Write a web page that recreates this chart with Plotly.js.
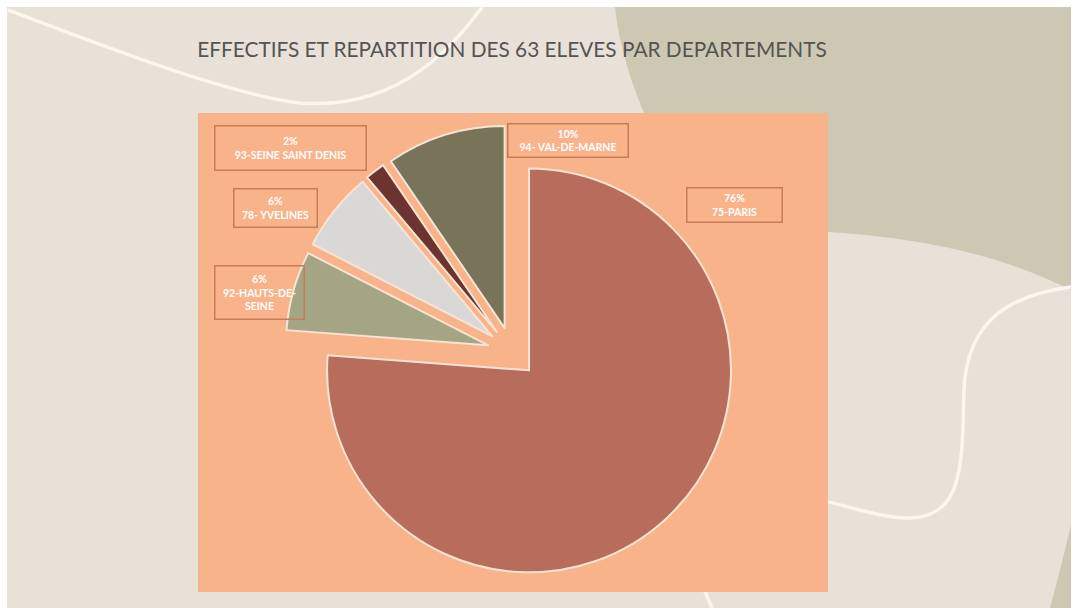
<!DOCTYPE html>
<html>
<head>
<meta charset="utf-8">
<script src="https://cdn.plot.ly/plotly-3.0.1.min.js"></script>
<style>html,body{margin:0;padding:0;background:#fff;overflow:hidden}#chart{width:1073px;height:608px}</style>
</head>
<body>
<div id="chart"></div>
<script>
// ---- data ----
const departements = ["75-PARIS", "92-HAUTS-DE-SEINE", "78- YVELINES", "93-SEINE SAINT DENIS", "94- VAL-DE-MARNE"];
const eleves = [48, 4, 4, 1, 6];
const pourcentages = ["76%", "6%", "6%", "2%", "10%"];
const labelTexts = ["75-PARIS", "92-HAUTS-DE-<br>SEINE", "78- YVELINES", "93-SEINE SAINT DENIS", "94- VAL-DE-MARNE"];
const sliceColors = ["#B86C5C", "#A4A585", "#DAD8D6", "#6C3330", "#77745A"];
const titleText = "EFFECTIFS ET REPARTITION DES 63 ELEVES PAR DEPARTEMENTS";

// ---- layout helpers (pixel -> paper) ----
const W = 1073, H = 608;
const px = x => x / W;
const py = y => 1 - y / H;
function path(cmds) {
  return cmds.map(c => {
    const l = c[0]; const pts = [];
    for (let i = 1; i < c.length; i += 2) pts.push(px(c[i]).toFixed(5) + "," + py(c[i + 1]).toFixed(5));
    return l + " " + pts.join(" ");
  }).join(" ");
}

const shapes = [
  {type: "rect", xref: "paper", yref: "paper", x0: px(7), x1: px(1071), y0: py(608), y1: py(7),
   fillcolor: "#E8E1D8", line: {width: 0}, layer: "below"},
  {type: "path", xref: "paper", yref: "paper", layer: "below", fillcolor: "#CDC8B3", line: {width: 0},
   path: path([["M", 615, 7], ["L", 1071, 7], ["L", 1071, 290], ["C", 1030, 270, 960, 240, 828, 232],
               ["L", 700, 200], ["C", 650, 150, 620, 60, 615, 7]]) + " Z"},
  {type: "path", xref: "paper", yref: "paper", layer: "below", fillcolor: "#CDC8B3", line: {width: 0},
   path: path([["M", 1071, 525], ["L", 1071, 608], ["L", 1050, 608], ["C", 1058, 580, 1065, 550, 1071, 525]]) + " Z"},
  {type: "path", xref: "paper", yref: "paper", layer: "below", line: {color: "#FBF6EE", width: 3.5},
   path: path([["M", 8, 10], ["C", 100, 45, 230, 95, 300, 103], ["C", 370, 108, 430, 80, 482, 7]])},
  {type: "path", xref: "paper", yref: "paper", layer: "below", line: {color: "#FBF6EE", width: 3.5},
   path: path([["M", 1071, 287], ["C", 1010, 295, 967, 320, 964, 390], ["C", 962, 460, 965, 517, 910, 518],
               ["C", 880, 519, 850, 505, 700, 470]])},
  {type: "path", xref: "paper", yref: "paper", layer: "below", line: {color: "#FBF6EE", width: 3.5},
   path: path([["M", 700, 580], ["L", 712, 608]])},
  {type: "rect", xref: "paper", yref: "paper", x0: px(198), x1: px(828), y0: py(592), y1: py(113),
   fillcolor: "#F8B38B", line: {width: 0}, layer: "below"}
];

const boxes = [
  {cx: 734, cy: 205, w: 96, h: 35},
  {cx: 259, cy: 293, w: 90, h: 54},
  {cx: 275, cy: 208, w: 84, h: 39},
  {cx: 290, cy: 148, w: 152, h: 45},
  {cx: 568, cy: 140, w: 121, h: 34}
];
const annotations = departements.map((d, i) => ({
  xref: "paper", yref: "paper", x: px(boxes[i].cx), y: py(boxes[i].cy),
  xanchor: "center", yanchor: "middle", showarrow: false,
  text: "<b>" + pourcentages[i] + "<br>" + labelTexts[i] + "</b>",
  width: boxes[i].w - 4, height: boxes[i].h - 4, borderpad: 1,
  bordercolor: "#C77B57", borderwidth: 1.5, align: "center", valign: "middle",
  font: {family: "Lato, 'Open Sans', sans-serif", size: 10.5, color: "#FFFFFF"}
}));

const trace = {
  type: "pie",
  labels: departements,
  values: eleves,
  sort: false,
  direction: "clockwise",
  rotation: 0,
  pull: [0.124, 0.124, 0.124, 0.124, 0.124],
  marker: {colors: sliceColors, line: {color: "#F7E4D2", width: 2}},
  textinfo: "none",
  hoverinfo: "label+value+percent",
  showlegend: false,
  domain: {x: [px(285), px(739)], y: [py(579), py(125)]}
};

const layout = {
  width: W, height: H,
  margin: {l: 0, r: 0, t: 0, b: 0},
  paper_bgcolor: "#FFFFFF",
  showlegend: false,
  title: {text: titleText, x: px(512), xanchor: "center", y: py(50), yanchor: "middle",
          font: {family: "Lato, 'Open Sans', sans-serif", size: 20.8, color: "#545452"}},
  shapes: shapes,
  annotations: annotations
};

Plotly.newPlot("chart", [trace], layout, {displayModeBar: false, staticPlot: true});
</script>
</body>
</html>
